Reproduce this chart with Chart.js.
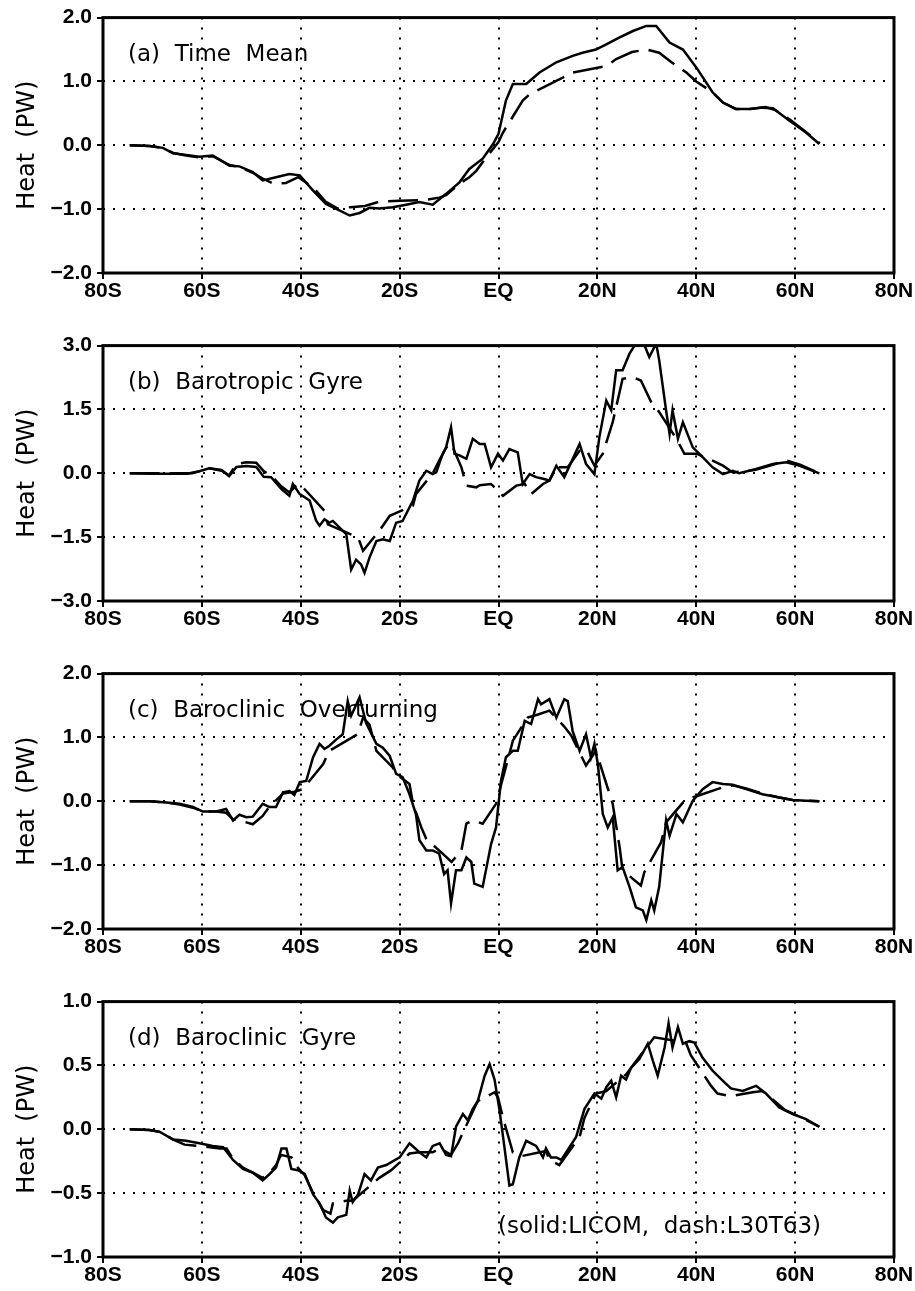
<!DOCTYPE html>
<html>
<head>
<meta charset="utf-8">
<script src="https://cdn.jsdelivr.net/npm/chart.js@4.4.1/dist/chart.umd.min.js"></script>
<style>
body { margin:0; background:#fff; }
.panel { position:absolute; left:0; width:915px; height:322px; }
</style>
</head>
<body>
<div class="panel" style="top:0px"><canvas id="pa" width="915" height="322"></canvas></div>
<div class="panel" style="top:328px"><canvas id="pb" width="915" height="322"></canvas></div>
<div class="panel" style="top:656px"><canvas id="pc" width="915" height="322"></canvas></div>
<div class="panel" style="top:984px"><canvas id="pd" width="915" height="322"></canvas></div>
<script>
// x ticks (latitude), every 20 deg
var xTicks = [-80, -60, -40, -20, 0, 20, 40, 60, 80];

// (a) Time Mean  -- solid: LICOM, dash: L30T63
var latA1 = [-74.6,-70.6,-67.9,-65.8,-63.2,-60.5,-57.8,-54.4,-52.4,-49.7,-47.7,-45,-42.3,-40.2,-37.5,-34.9,-32.2,-30.1,-28.1,-26.1,-24.1,-21.4,-18.7,-16,-13.3,-10.6,-7.9,-5.9,-3.2,-1.1,0,1.5,2.9,5.6,8.3,11.7,15,17,19.7,21.8,24.5,27.2,29.9,31.9,34.6,37.3,40,43.3,45.4,48,50.7,53.4,55.5,58.8,62.2,64.9];
var heatA1 = [0,-0.01,-0.04,-0.125,-0.15,-0.18,-0.16,-0.32,-0.33,-0.42,-0.55,-0.5,-0.45,-0.47,-0.71,-0.92,-1.02,-1.1,-1.06,-0.98,-0.99,-0.97,-0.93,-0.89,-0.93,-0.76,-0.58,-0.37,-0.21,0.02,0.18,0.7,0.96,0.96,1.14,1.3,1.4,1.45,1.5,1.58,1.69,1.79,1.87,1.87,1.61,1.5,1.22,0.83,0.67,0.57,0.57,0.59,0.58,0.39,0.2,0.02];
var latA2 = [-74.6,-70.6,-67.9,-65.8,-63.2,-60.5,-57.8,-54.4,-52.4,-49.7,-47.7,-45.6,-43,-40.5,-37.5,-35,-32.5,-30,-27,-24,-20,-15,-12,-10.6,-7.9,-5.9,-4.5,-2.5,0,0.9,4.9,6.3,13,15,21.8,23.8,27,29.9,32.5,35,38,40,43.3,45.4,48,51,54,56,59,62,65];
var heatA2 = [0,-0.01,-0.04,-0.12,-0.16,-0.19,-0.17,-0.31,-0.34,-0.43,-0.52,-0.6,-0.59,-0.5,-0.66,-0.88,-0.99,-0.97,-0.95,-0.88,-0.87,-0.86,-0.82,-0.78,-0.6,-0.5,-0.4,-0.19,0.05,0.2,0.7,0.8,1.06,1.14,1.24,1.35,1.46,1.5,1.45,1.3,1.14,1.0,0.83,0.67,0.57,0.57,0.6,0.55,0.4,0.22,0.03];

// (b) Barotropic Gyre
var latB1 = [-74.6,-70,-65,-63,-60.5,-58.5,-56,-54.5,-53,-51,-49,-47.5,-46,-43.9,-42.3,-41.6,-40.2,-38.2,-36.9,-36.2,-35.2,-34.2,-33.5,-32.2,-30.8,-29.8,-28.8,-27.8,-27.1,-26.1,-24.7,-23.4,-22,-20.7,-19.4,-17.3,-16,-14.6,-13.3,-12.6,-11.3,-10.6,-9.6,-8.9,-7.9,-6.5,-5.2,-3.8,-2.8,-1.5,-0.1,0.9,2.2,3.9,4.9,6.3,7.6,9,10.3,11.7,13.3,14.4,16.4,17.7,19.4,20.4,21.8,22.8,23.8,25.1,26.5,27.8,29.2,30.5,31.9,32.5,33.9,34.6,35.2,36.3,37.3,39.3,41.3,43.3,45.4,47.4,48.7,52.1,55.5,58.2,60.8,64.9];
var heatB1 = [0,-0.01,-0.01,-0.01,0.05,0.12,0.08,-0.07,0.15,0.17,0.15,-0.08,-0.09,-0.37,-0.53,-0.25,-0.49,-0.64,-1.11,-1.23,-1.08,-1.16,-1.12,-1.27,-1.43,-2.26,-2.03,-2.14,-2.34,-1.98,-1.59,-1.55,-1.59,-1.16,-1.12,-0.64,-0.17,0.06,-0.02,0.02,0.45,0.61,1.08,0.46,0.42,0.34,0.81,0.69,0.69,0.14,0.46,0.3,0.57,0.49,-0.25,-0.02,-0.09,-0.13,-0.17,0.18,-0.09,0.18,0.69,0.22,-0.02,0.85,1.71,1.48,2.42,2.42,2.81,3.05,3.1,2.73,3.05,2.66,1.48,0.93,1.48,0.81,1.2,0.61,0.38,0.14,-0.02,0.06,0,0.1,0.22,0.26,0.18,0];
var latB2 = [-74.6,-65,-62,-60,-58.5,-56,-54.5,-53,-51,-49,-47.5,-46,-44,-42.3,-41,-40.2,-35.2,-34.5,-28.4,-27.4,-24.1,-22,-17.3,-16.7,-13.3,-12,-10.6,-9.6,-7.5,-6.5,-4.5,-3.8,-1.5,0.9,3.6,5.3,6.6,9,10.3,11.7,14,16.4,17.7,19.4,21.1,23.1,25.1,27.2,28.8,30.9,32.5,36,37.6,40,43.3,45.4,47.4,52,55.5,58.2,61,65];
var heatB2 = [0,0,0,0.06,0.12,0.06,-0.05,0.22,0.26,0.25,0.05,-0.05,-0.3,-0.45,-0.3,-0.25,-0.88,-1.2,-1.51,-1.82,-1.35,-1.0,-0.76,-0.49,0,0.3,0.6,0.7,0.14,-0.29,-0.33,-0.28,-0.25,-0.53,-0.29,-0.25,-0.49,-0.25,-0.17,0.14,0.14,0.53,0.57,0.18,0.46,1.2,2.22,2.26,2.18,1.67,1.44,0.81,0.46,0.46,0.3,0.18,0.02,0.08,0.2,0.3,0.2,0];

// (c) Baroclinic Overturning
var latC1 = [-74.6,-70.6,-67.2,-64.5,-61.8,-59.8,-57.1,-55.1,-53.7,-52.4,-51,-49.7,-47.7,-46.3,-45,-43.6,-42.3,-41.3,-40.2,-38.9,-37.5,-36.2,-35.2,-34.2,-32.8,-31.5,-30.5,-29.8,-28.1,-26.8,-24.7,-23.4,-22,-20.7,-19.4,-18,-16.7,-16,-14.6,-13.3,-12,-11,-10.3,-9.6,-8.6,-7.5,-6.5,-5.5,-4.9,-3.2,-1.5,-0.5,0.5,1.5,2.9,3.9,5.3,6.6,8,8.6,10.3,11.7,13.3,14,15,16.4,17.7,18.7,19.4,20.1,21.1,22.1,23.1,24.1,25.1,26.5,27.8,29.2,29.9,30.9,31.5,32.5,33.9,34.6,36,37.3,39.3,41.3,43.3,45.4,47.4,50.1,53.4,56.8,59.5,62.2,64.9];
var heatC1 = [0,0,-0.02,-0.04,-0.09,-0.16,-0.16,-0.12,-0.3,-0.21,-0.25,-0.24,-0.04,-0.09,-0.09,0.14,0.16,0.1,0.3,0.32,0.69,0.9,0.82,0.87,0.97,1.05,1.57,1.34,1.63,1.23,0.9,0.84,0.71,0.43,0.38,0.11,-0.2,-0.61,-0.77,-0.77,-0.82,-1.14,-1.08,-1.6,-1.08,-1.08,-0.88,-0.95,-1.29,-1.34,-0.67,-0.41,0.32,0.69,0.79,0.79,1.26,1.21,1.6,1.52,1.6,1.31,1.6,1.57,1.1,0.79,1.05,0.69,0.9,0.58,-0.2,-0.41,-0.25,-1.08,-1.03,-1.34,-1.66,-1.71,-1.86,-1.55,-1.71,-1.34,-0.3,-0.54,-0.2,-0.33,0.01,0.19,0.3,0.27,0.26,0.19,0.11,0.06,0.02,0.01,0];
var latC2 = [-74.6,-70.6,-67.2,-64.5,-61.8,-59.8,-57.1,-55.1,-53.7,-51,-49.7,-47.7,-46.3,-43.6,-41.3,-39.6,-35.5,-34.2,-28.5,-27.4,-26.1,-24.7,-21.4,-20.7,-18,-17.3,-15.6,-14.6,-11.3,-9.5,-7.5,-6.5,-5.2,-3.2,-0.5,0,2.2,2.9,5.9,8,10.3,13.3,14.7,17.7,19.7,23.1,24.5,25.1,28.8,29.5,32.9,33.9,37.3,39.3,45.4,47.4,50.1,53.4,56.8,59.5,62.2,64.9];
var heatC2 = [0,0,-0.02,-0.05,-0.1,-0.16,-0.16,-0.18,-0.28,-0.33,-0.36,-0.23,-0.08,0.12,0.15,0.19,0.58,0.79,1.05,1.31,1.2,0.79,0.53,0.43,0.27,-0.04,-0.41,-0.59,-0.82,-0.95,-0.77,-0.35,-0.3,-0.35,-0.04,0.11,0.74,0.95,1.31,1.36,1.42,1.17,1.03,0.56,0.79,-0.04,-0.72,-1.08,-1.32,-1.11,-0.64,-0.33,-0.02,0.06,0.22,0.25,0.2,0.12,0.06,0.02,0.01,0];

// (d) Baroclinic Gyre
var latD1 = [-74.6,-70.6,-68.5,-65.8,-63.2,-60.5,-57.8,-55.7,-53.7,-51.7,-49.7,-47.7,-46.3,-45,-43.9,-42.9,-41.9,-40.6,-39.2,-37.5,-36.2,-34.9,-33.5,-32.5,-30.8,-30.1,-29.5,-28.4,-27.1,-25.8,-24.4,-22.7,-20,-18,-16,-14.6,-13.3,-11.9,-10.6,-9.6,-8.6,-7.2,-6.2,-5.2,-4.2,-2.8,-1.8,-0.8,0.2,1.2,2.2,2.9,4.2,5.6,7.6,9,9.6,10.6,11.7,12.7,13.7,15.7,17.4,19.4,20.8,21.8,22.8,23.8,24.8,25.8,26.8,28.5,30.2,31.2,32.2,33.6,34.4,35.2,36.3,37.3,38.6,39.6,41.3,43.3,45.4,47,49.4,52.1,54.1,56.8,59.5,62.2,64.9];
var heatD1 = [0,-0.005,-0.02,-0.08,-0.09,-0.11,-0.13,-0.14,-0.24,-0.31,-0.34,-0.4,-0.35,-0.3,-0.15,-0.15,-0.31,-0.32,-0.35,-0.51,-0.58,-0.69,-0.73,-0.69,-0.67,-0.48,-0.57,-0.51,-0.35,-0.4,-0.3,-0.28,-0.22,-0.11,-0.18,-0.22,-0.13,-0.11,-0.2,-0.21,0.02,0.12,0.07,0.16,0.22,0.42,0.51,0.39,0.15,-0.14,-0.44,-0.43,-0.22,-0.09,-0.13,-0.22,-0.15,-0.22,-0.22,-0.24,-0.18,-0.06,0.16,0.28,0.24,0.33,0.38,0.25,0.42,0.39,0.48,0.55,0.67,0.54,0.42,0.64,0.83,0.64,0.8,0.67,0.69,0.68,0.56,0.46,0.38,0.32,0.3,0.34,0.28,0.17,0.12,0.08,0.02];
var latD2 = [-74.6,-70.6,-68.5,-65.8,-63.5,-60.5,-56.4,-55,-53.7,-51.7,-49.7,-47.7,-46.3,-45,-44,-41.9,-40.6,-39.2,-37.5,-35.5,-34,-33.5,-30.8,-29.5,-24.1,-21.7,-18,-16,-13.3,-11.9,-9.6,-8.2,-5.2,-4.2,-0.8,-0.1,0.9,2.9,4.6,9.6,10.3,12.3,16.4,17.4,19.7,21.8,25.8,29.9,31.5,37.9,38.9,43,44.3,47,51.4,53.4,58,60.8,64.9];
var heatD2 = [0,-0.005,-0.02,-0.08,-0.12,-0.13,-0.15,-0.15,-0.23,-0.3,-0.34,-0.38,-0.34,-0.28,-0.2,-0.22,-0.3,-0.36,-0.5,-0.63,-0.66,-0.58,-0.56,-0.56,-0.38,-0.32,-0.19,-0.18,-0.18,-0.15,-0.2,-0.11,0.14,0.22,0.29,0.25,0.09,-0.18,-0.21,-0.17,-0.24,-0.28,-0.06,0.09,0.28,0.3,0.43,0.64,0.72,0.68,0.58,0.34,0.28,0.26,0.29,0.3,0.15,0.1,0.02];

function pts(lat, val) {
	return lat.map(function(x, i) { return {x: x, y: val[i]}; });
}

function xLabel(v) {
	if (v == 0) return 'EQ';
	return v < 0 ? (-v) + 'S' : v + 'N';
}

function yLabel(v) {
	var s = Math.abs(v).toFixed(1);
	return v < -1e-9 ? '\u2212' + s : s;
}

var tickFont = {family: '"Liberation Sans", Arial, sans-serif', size: 21, weight: 'bold'};

// panel text + thick frame round the plot area
var boxPlugin = {
	id: 'box',
	beforeDatasetsDraw: function(chart, args, opts) {
		var ctx = chart.ctx, a = chart.chartArea;
		ctx.save();
		ctx.fillStyle = '#000';
		ctx.font = '23px "DejaVu Sans"';
		ctx.textBaseline = 'alphabetic';
		ctx.fillText(opts.label, a.left + 25, a.top + 43);
		if (opts.note) ctx.fillText(opts.note, 498, a.top + 231);
		ctx.restore();
	},
	afterDatasetsDraw: function(chart) {
		var ctx = chart.ctx, a = chart.chartArea;
		ctx.save();
		ctx.strokeStyle = '#000';
		ctx.lineWidth = 3;
		ctx.strokeRect(a.left, a.top, a.right - a.left, a.bottom - a.top);
		ctx.restore();
	}
};

function makePanel(id, label, solid, dash, yMin, yMax, yStep, note) {
	var grid = {color: '#000', lineWidth: 2, tickLength: 6, tickWidth: 2, tickColor: '#000'};
	var border = {display: false, dash: [2, 8]};
	return new Chart(id, {
		type: 'line',
		data: {
			datasets: [
				{data: solid, borderColor: '#000', borderWidth: 2.5, pointRadius: 0, tension: 0, fill: false},
				{data: dash, borderColor: '#000', borderWidth: 2.5, borderDash: [30, 10], pointRadius: 0, tension: 0, fill: false}
			]
		},
		options: {
			responsive: false,
			animation: false,
			layout: {padding: {top: 17, right: 21, left: 0, bottom: 0}},
			plugins: {legend: {display: false}, tooltip: {enabled: false}, box: {label: label, note: note}},
			scales: {
				x: {
					type: 'linear', min: xTicks[0], max: xTicks[xTicks.length - 1],
					afterFit: function(s) { s.height = 49; },
					afterBuildTicks: function(s) { s.ticks = xTicks.map(function(v) { return {value: v}; }); },
					ticks: {callback: xLabel, color: '#000', font: tickFont, padding: 0, maxRotation: 0, autoSkip: false},
					grid: grid, border: border
				},
				y: {
					min: yMin, max: yMax,
					afterFit: function(s) { s.width = 103; },
					ticks: {stepSize: yStep, callback: yLabel, color: '#000', font: tickFont, padding: 5},
					title: {display: true, text: 'Heat  (PW)', color: '#000', font: {family: '"DejaVu Sans"', size: 24}, padding: {top: 13, bottom: 0}},
					grid: grid, border: border
				}
			}
		},
		plugins: [boxPlugin]
	});
}

makePanel('pa', '(a)  Time  Mean', pts(latA1, heatA1), pts(latA2, heatA2), -2, 2, 1);
makePanel('pb', '(b)  Barotropic  Gyre', pts(latB1, heatB1), pts(latB2, heatB2), -3, 3, 1.5);
makePanel('pc', '(c)  Baroclinic  Overturning', pts(latC1, heatC1), pts(latC2, heatC2), -2, 2, 1);
makePanel('pd', '(d)  Baroclinic  Gyre', pts(latD1, heatD1), pts(latD2, heatD2), -1, 1, 0.5, '(solid:LICOM,  dash:L30T63)');
</script>
</body>
</html>
